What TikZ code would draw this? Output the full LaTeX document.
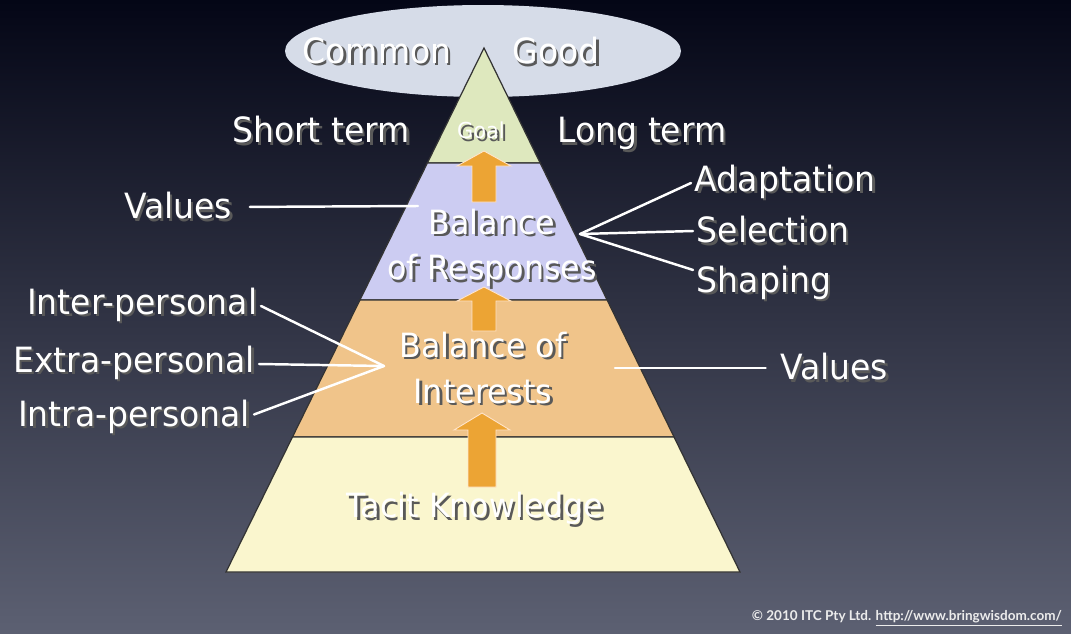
\documentclass[tikz,border=0pt]{standalone}
\usepackage{fontspec}
\setmainfont{DejaVu Sans}[FakeStretch=0.95]
\newfontfamily\smallfont{Lato}
\usepackage{tikz}
\usetikzlibrary{calc}
\definecolor{bgtop}{RGB}{4,6,22}
\definecolor{bgmid}{RGB}{38,42,66}
\definecolor{bgbot}{RGB}{92,96,114}
\definecolor{ovalgrey}{RGB}{214,220,232}
\definecolor{goalgreen}{RGB}{222,232,190}
\definecolor{resplav}{RGB}{204,204,242}
\definecolor{intorange}{RGB}{240,196,138}
\definecolor{tacityel}{RGB}{250,246,206}
\definecolor{arrorange}{RGB}{236,164,52}
\newcommand{\shd}[1]{\leavevmode\rlap{\kern1.4pt\raisebox{-1.4pt}{\color{black!65}#1}}#1}

\begin{document}
\begin{tikzpicture}[x=0.02cm,y=-0.02cm,
	lbl/.style={text=white,font=\fontsize{19.8}{24}\selectfont,inner sep=2pt},
	inlbl/.style={text=white,font=\fontsize{19}{26}\selectfont,align=center,inner sep=0pt},
	layer/.style={draw=black!80,line width=0.7pt},
	uparr/.style={fill=arrorange,draw=orange!20!white,line width=0.5pt},
	link/.style={draw=white,line width=1.4pt,line cap=round}]
		\useasboundingbox (0,0) rectangle (1071,633);
		\shade[top color=bgtop,middle color=bgmid,bottom color=bgbot] (0,0) rectangle (1071,633);
		\fill[ovalgrey] (483,51) ellipse [x radius=198,y radius=46];
		
		\coordinate (ap) at (484,48);
		\coordinate (bl) at (226,572);
		\coordinate (br) at (740,572);
		\coordinate (l1) at ($(ap)!{115/524}!(bl)$);
		\coordinate (r1) at ($(ap)!{115/524}!(br)$);
		\coordinate (l2) at ($(ap)!{252/524}!(bl)$);
		\coordinate (r2) at ($(ap)!{252/524}!(br)$);
		\coordinate (l3) at ($(ap)!{389/524}!(bl)$);
		\coordinate (r3) at ($(ap)!{389/524}!(br)$);
		
		\filldraw[layer,fill=goalgreen] (ap) -- (l1) -- (r1) -- cycle;
		\filldraw[layer,fill=resplav] (l1) -- (l2) -- (r2) -- (r1) -- cycle;
		\filldraw[layer,fill=intorange] (l2) -- (l3) -- (r3) -- (r2) -- cycle;
		\filldraw[layer,fill=tacityel] (l3) -- (bl) -- (br) -- (r3) -- cycle;
		
		\foreach \x/\t/\h/\b/\w/\s in {484/151/166/202/27/12,484/287/301/331/27/12,482/413/430/487/28/14}
			\filldraw[uparr] (\x,\t) -- (\x+\w,\h) -- (\x+\s,\h) -- (\x+\s,\b) -- (\x-\s,\b) -- (\x-\s,\h) -- (\x-\w,\h) -- cycle;
		
		\node[lbl](common)at(377,52) {\shd{Common}};
		\node[lbl](good)at(556,52) {\shd{Good}};
		\node[lbl](short)at(321,131) {\shd{Short term}};
		\node[lbl](long)at(642,135) {\shd{Long term}};
		\node[lbl,font=\fontsize{12.5}{15}\selectfont](goal)at(481,132) {\shd{Goal}};
		\node[lbl](valL)at(178,207) {\shd{Values}};
		\node[inlbl](resp)at(492,249) {\shd{Balance}\\\shd{of Responses}};
		\node[lbl,anchor=west](adapt)at(691,183) {\shd{Adaptation}};
		\node[lbl,anchor=west](sel)at(693,231) {\shd{Selection}};
		\node[lbl,anchor=west](shap)at(693,284) {\shd{Shaping}};
		\node[lbl,anchor=east](inter)at(261,306) {\shd{Inter-personal}};
		\node[lbl,anchor=east](extra)at(259,364) {\shd{Extra-personal}};
		\node[lbl,anchor=east](intra)at(254,418) {\shd{Intra-personal}};
		\node[inlbl](interests)at(483,369) {\shd{Balance of}\\\shd{Interests}};
		\node[lbl](valR)at(834,368) {\shd{Values}};
		\node[inlbl](tacit)at(475,510) {\shd{Tacit Knowledge}};
		\node[anchor=east,text=white!85!gray,font=\smallfont\bfseries\fontsize{7.7}{9}\selectfont](copy)at(1068,618) {© 2010 ITC Pty Ltd. \underline{http://www.bringwisdom.com/}};
		
		\coordinate (respin) at (580,234);
		\coordinate (intin) at (384,366);
		\coordinate (valLin) at (418,206);
		\coordinate (valRin) at (615,368);
		
		\draw[link,shorten <=8pt](valL.east) -- (valLin);
		\draw[link](adapt.west) -- (respin);
		\draw[link](sel.west) -- (respin);
		\draw[link]([yshift=8pt]shap.west) -- (respin);
		\draw[link](inter.east) -- (intin);
		\draw[link](extra.east) -- (intin);
		\draw[link]([yshift=2pt]intra.east) -- (intin);
		\draw[link,shorten <=6pt](valR.west) -- (valRin);
	\end{tikzpicture}
\end{document}
